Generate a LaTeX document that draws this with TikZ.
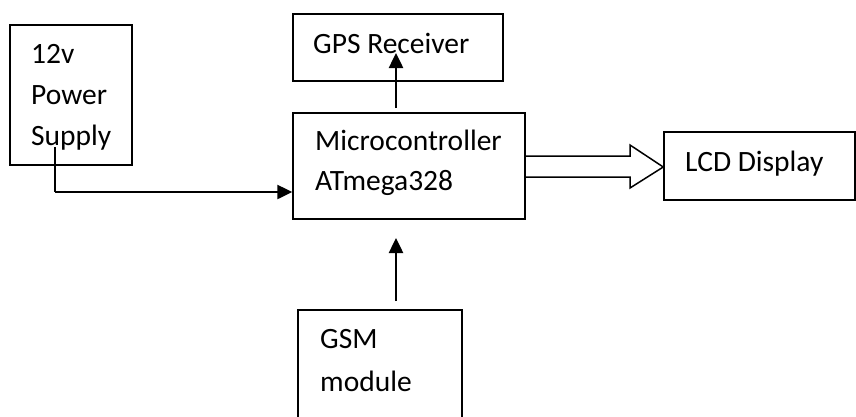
\documentclass[tikz,border=0pt]{standalone}
\usepackage{fontspec}
\setmainfont{Carlito}
\usetikzlibrary{arrows.meta}
\begin{document}
\begin{tikzpicture}[x=1pt,y=-1pt,
  box/.style={draw,line width=1.5pt,rectangle,inner sep=0pt},
  lbl/.style={anchor=base west,inner sep=0pt,font=\fontsize{29.5}{34}\selectfont},
  conn/.style={line width=2.5pt,-{Triangle[length=15pt,width=14pt]}}]
\useasboundingbox (0,0) rectangle (856,416);
\clip (0,0) rectangle (856,416);
% boxes
\node[box,minimum width=122pt,minimum height=140pt] (pwr) at (71,95) {};
\node[box,minimum width=210pt,minimum height=67pt] (gps) at (398,47.5) {};
\node[box,minimum width=232pt,minimum height=106pt] (mcu) at (409,166) {};
\node[box,minimum width=191pt,minimum height=68pt] (lcd) at (759.5,166) {};
\node[box,minimum width=164pt,minimum height=130pt] (gsm) at (380,375) {};
% texts
\node[lbl] (t1) at (31,63) {12v};
\node[lbl] (t2) at (31,104) {Power};
\node[lbl] (t3) at (31,145) {Supply};
\node[lbl] (t4) at (313,53) {GPS Receiver};
\node[lbl] (t5) at (315,150) {Microcontroller};
\node[lbl] (t6) at (315,190) {ATmega328};
\node[lbl] (t7) at (685,171) {LCD Display};
\node[lbl] (t8) at (320,348) {GSM};
\node[lbl] (t9) at (320,391) {module};
% connectors
\coordinate (p1) at (55,147);
\coordinate (p2) at (55,192);
\draw[line width=2.5pt] (p1) -- (p2);
\draw[conn] (55,192) -- (mcu.west |- p2);
\coordinate (g1) at (396,108);
\draw[conn] (g1) -- (396,53);
\coordinate (s1) at (396,301);
\draw[conn] (s1) -- (396,238);
% hollow arrow
\draw[line width=1.5pt,line join=miter] (mcu.east |- 0,156) -- (630,156) -- (630,145) -- (lcd.west |- 0,167) -- (630,188) -- (630,177) -- (mcu.east |- 0,177);
\end{tikzpicture}
\end{document}
